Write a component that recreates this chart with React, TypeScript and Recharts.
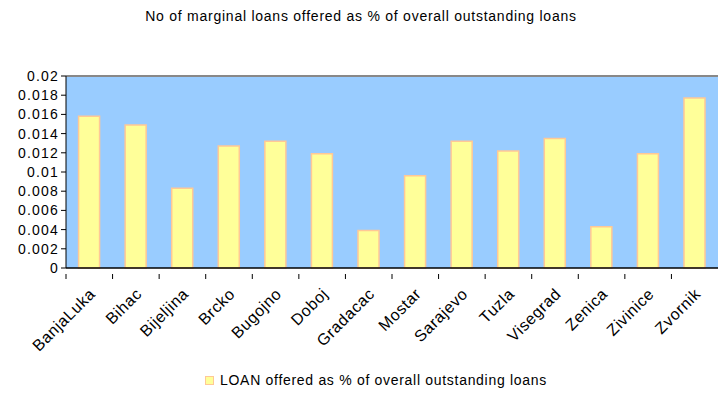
import React from "react";
import {
  BarChart,
  Bar,
  XAxis,
  YAxis,
  CartesianGrid,
  ReferenceLine,
  Legend,
} from "recharts";

const cities = [
  "BanjaLuka",
  "Bihac",
  "Bijeljina",
  "Brcko",
  "Bugojno",
  "Doboj",
  "Gradacac",
  "Mostar",
  "Sarajevo",
  "Tuzla",
  "Visegrad",
  "Zenica",
  "Zivinice",
  "Zvornik",
];

const loanShare = [
  0.0158, 0.0149, 0.0083, 0.0127, 0.0132, 0.0119, 0.0039, 0.0096, 0.0132,
  0.0122, 0.0135, 0.0043, 0.0119, 0.0177,
];

const yTicks = [0, 0.002, 0.004, 0.006, 0.008, 0.01, 0.012, 0.014, 0.016, 0.018, 0.02];

const seriesName = "LOAN offered as % of overall outstanding loans";
const title = "No of marginal loans offered as % of overall outstanding loans";

const data = cities.map((city, i) => ({ city, value: loanShare[i] }));

const FONT = "'Liberation Sans', Arial, sans-serif";

// category ticks sit on the band edges, labels are slanted under the centre
const CityTick = (props: any) => {
  const { x, y, payload } = props;
  const half = payload && payload.offset ? payload.offset : 23.3;
  return (
    <g>
      <line x1={x - half} y1={y - 2} x2={x - half} y2={y + 3} stroke="#000" />
      <text
        x={0}
        y={0}
        transform={`translate(${x - 1},${y + 11}) rotate(-45)`}
        textAnchor="end"
        dominantBaseline="hanging"
        fontSize={16}
        letterSpacing={0.6}
        fill="#000"
        fontFamily={FONT}
      >
        {payload.value}
      </text>
    </g>
  );
};

const LegendBox = () => (
  <div
    style={{
      display: "flex",
      justifyContent: "center",
      alignItems: "center",
      fontFamily: FONT,
      fontSize: 14,
      letterSpacing: 0.7,
      color: "#000",
      paddingLeft: 34,
      height: 18,
    }}
  >
    <span
      style={{
        display: "inline-block",
        width: 7,
        height: 7,
        background: "#FFFF99",
        border: "1.5px solid #FFC896",
        marginRight: 6,
      }}
    />
    {seriesName}
  </div>
);

export default function App() {
  return (
    <div
      style={{
        position: "absolute",
        left: 0,
        top: 0,
        width: 718,
        height: 403,
        background: "#fff",
        fontFamily: FONT,
      }}
    >
      <div
        style={{
          position: "absolute",
          top: 8,
          left: 0,
          width: 718,
          textAlign: "center",
          fontSize: 14,
          letterSpacing: 0.75,
          color: "#000",
          paddingLeft: 2,
        }}
      >
        {title}
      </div>
      <BarChart
        width={718}
        height={403}
        data={data}
        margin={{ top: 76, right: 0, left: 0, bottom: 0 }}
        barCategoryGap="27%"
      >
        <CartesianGrid
          horizontal={false}
          vertical={false}
          fill="#99CCFF"
          stroke="none"
        />
        <XAxis
          dataKey="city"
          interval={0}
          height={117}
          tickLine={false}
          axisLine={{ stroke: "#000", strokeWidth: 1.5 }}
          tick={<CityTick />}
        />
        <YAxis
          width={66}
          domain={[0, 0.02]}
          ticks={yTicks}
          interval={0}
          tickSize={5}
          tickMargin={2}
          tickLine={{ stroke: "#000" }}
          axisLine={{ stroke: "#000" }}
          tickFormatter={(v: number) => String(+v.toFixed(3))}
          tick={{ fontSize: 14, fill: "#000", fontFamily: FONT, letterSpacing: 1.2 }}
        />
        <ReferenceLine y={0.02} stroke="#888" strokeWidth={2} />
        <Legend
          content={<LegendBox />}
          wrapperStyle={{ top: 371, left: 0, width: 718 }}
        />
        <Bar
          dataKey="value"
          name={seriesName}
          fill="#FFFF99"
          stroke="#FFC896"
          strokeWidth={1.5}
          isAnimationActive={false}
        />
      </BarChart>
    </div>
  );
}
